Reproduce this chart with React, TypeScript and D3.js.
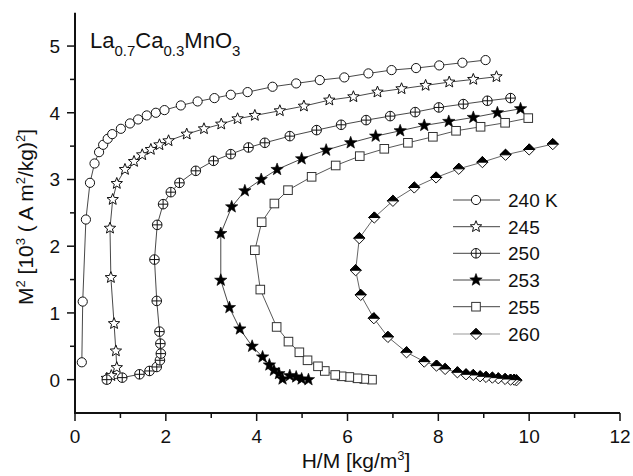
import React from "react";
import * as d3 from "d3";

const W = 633;
const H = 476;

const X_DOMAIN: [number, number] = [0, 12];
const Y_DOMAIN: [number, number] = [-0.5, 5.5];
const X_TICKS = [0, 2, 4, 6, 8, 10, 12];
const X_MINOR = [1, 3, 5, 7, 9, 11];
const Y_TICKS = [0, 1, 2, 3, 4, 5];
const Y_MINOR = [0.5, 1.5, 2.5, 3.5, 4.5];

// Isotherms: [H/M, M^2] pairs
const T240: [number, number][] = [
  [0.15, 0.26], [0.17, 1.17], [0.24, 2.4], [0.33, 2.95], [0.43, 3.24], [0.53, 3.41],
  [0.62, 3.52], [0.72, 3.61], [0.82, 3.68], [1.01, 3.76], [1.21, 3.84], [1.39, 3.9],
  [1.58, 3.96], [1.78, 4.0], [1.97, 4.04], [2.33, 4.11], [2.7, 4.17], [3.07, 4.22],
  [3.43, 4.27], [3.8, 4.31], [4.35, 4.39], [4.87, 4.44], [5.39, 4.49], [5.93, 4.53],
  [6.46, 4.59], [6.97, 4.64], [7.51, 4.67], [8.02, 4.71], [8.53, 4.75], [9.04, 4.79],
];
const T245: [number, number][] = [
  [0.7, 0.02], [0.8, 0.06], [0.92, 0.18], [0.9, 0.43], [0.86, 0.84], [0.79, 1.53],
  [0.77, 2.27], [0.83, 2.7], [0.92, 2.94], [1.1, 3.15], [1.3, 3.27], [1.48, 3.37],
  [1.67, 3.45], [1.86, 3.52], [2.06, 3.58], [2.46, 3.68], [2.84, 3.76], [3.22, 3.83],
  [3.58, 3.91], [3.96, 3.96], [4.51, 4.03], [5.04, 4.1], [5.6, 4.19], [6.13, 4.24],
  [6.66, 4.31], [7.19, 4.36], [7.72, 4.41], [8.24, 4.46], [8.77, 4.5], [9.28, 4.54],
];
const T250: [number, number][] = [
  [0.7, 0.0], [1.04, 0.03], [1.42, 0.08], [1.64, 0.13], [1.8, 0.19], [1.87, 0.29],
  [1.89, 0.39], [1.88, 0.54], [1.86, 0.72], [1.8, 1.18], [1.75, 1.8], [1.81, 2.32],
  [1.94, 2.63], [2.11, 2.81], [2.3, 2.95], [2.66, 3.13], [3.05, 3.28], [3.43, 3.38],
  [3.82, 3.48], [4.18, 3.55], [4.73, 3.65], [5.32, 3.74], [5.86, 3.82], [6.41, 3.89],
  [6.94, 3.95], [7.49, 4.01], [8.01, 4.08], [8.55, 4.13], [9.08, 4.18], [9.59, 4.22],
];
const T253: [number, number][] = [
  [5.14, 0.0], [4.99, 0.01], [4.87, 0.04], [4.73, 0.06], [4.57, 0.01], [4.49, 0.09],
  [4.38, 0.14], [4.28, 0.22], [4.13, 0.34], [3.9, 0.5], [3.63, 0.76], [3.4, 1.08],
  [3.21, 1.49], [3.21, 2.19], [3.45, 2.59], [3.74, 2.83], [4.1, 3.0], [4.45, 3.15],
  [4.99, 3.31], [5.53, 3.44], [6.07, 3.55], [6.62, 3.65], [7.16, 3.73], [7.69, 3.81],
  [8.23, 3.87], [8.77, 3.93], [9.3, 4.0], [9.81, 4.06],
];
const T255: [number, number][] = [
  [6.54, 0.0], [6.37, 0.01], [6.22, 0.02], [6.04, 0.04], [5.87, 0.05], [5.73, 0.07],
  [5.5, 0.13], [5.35, 0.2], [5.12, 0.29], [4.94, 0.41], [4.7, 0.57], [4.44, 0.79],
  [4.08, 1.35], [3.96, 1.94], [4.11, 2.36], [4.39, 2.64], [4.69, 2.84], [5.21, 3.04],
  [5.74, 3.21], [6.27, 3.35], [6.81, 3.46], [7.33, 3.55], [7.88, 3.64], [8.39, 3.73],
  [8.93, 3.79], [9.47, 3.85], [9.98, 3.92],
];
const T260: [number, number][] = [
  [9.72, -0.01], [9.67, 0.0], [9.59, 0.0], [9.47, 0.01], [9.32, 0.02], [9.19, 0.03],
  [9.05, 0.04], [8.92, 0.05], [8.77, 0.07], [8.61, 0.08], [8.42, 0.11], [8.15, 0.16],
  [7.96, 0.21], [7.69, 0.27], [7.3, 0.41], [6.89, 0.64], [6.58, 0.92], [6.29, 1.27],
  [6.18, 1.64], [6.26, 2.12], [6.59, 2.43], [7.0, 2.68], [7.47, 2.88], [7.95, 3.03],
  [8.45, 3.16], [8.97, 3.26], [9.48, 3.37], [10.0, 3.45], [10.52, 3.53],
];

const LEGEND_LABELS = ["240 K", "245", "250", "253", "255", "260"];

type Kind = "circle" | "star" | "oplus" | "fstar" | "square" | "halfdiamond";

const SERIES: { data: [number, number][]; kind: Kind; line: string }[] = [
  { data: T240, kind: "circle", line: "#333" },
  { data: T245, kind: "star", line: "#333" },
  { data: T250, kind: "oplus", line: "#333" },
  { data: T253, kind: "fstar", line: "#333" },
  { data: T255, kind: "square", line: "#444" },
  { data: T260, kind: "halfdiamond", line: "#555" },
];

const FONT = "'Liberation Sans', Arial, Helvetica, sans-serif";

const x = d3.scaleLinear().domain(X_DOMAIN).range([75, 620]);
const y = d3.scaleLinear().domain(Y_DOMAIN).range([413, 12.7]);

function starPath(cx: number, cy: number, R: number, r: number) {
  let p = "";
  for (let i = 0; i < 10; i++) {
    const a = -Math.PI / 2 + (i * Math.PI) / 5;
    const rad = i % 2 ? r : R;
    p += (i ? "L" : "M") + (cx + rad * Math.cos(a)).toFixed(2) + "," + (cy + rad * Math.sin(a)).toFixed(2);
  }
  return p + "Z";
}

function Marker({ kind, cx, cy }: { kind: Kind; cx: number; cy: number }) {
  const sw = 1;
  switch (kind) {
    case "circle":
      return <circle cx={cx} cy={cy} r={4.6} fill="#fff" stroke="#111" strokeWidth={sw} />;
    case "star":
      return <path d={starPath(cx, cy, 6, 2.6)} fill="#fff" stroke="#111" strokeWidth={sw} />;
    case "fstar":
      return <path d={starPath(cx, cy, 6.5, 2.7)} fill="#000" stroke="#000" strokeWidth={0.6} />;
    case "oplus":
      return (
        <g>
          <circle cx={cx} cy={cy} r={4.8} fill="#fff" stroke="#111" strokeWidth={sw} />
          <line x1={cx - 4.8} x2={cx + 4.8} y1={cy} y2={cy} stroke="#111" strokeWidth={sw} />
          <line x1={cx} x2={cx} y1={cy - 4.8} y2={cy + 4.8} stroke="#111" strokeWidth={sw} />
        </g>
      );
    case "square":
      return <rect x={cx - 4.3} y={cy - 4.3} width={8.6} height={8.6} fill="#fff" stroke="#333" strokeWidth={sw} />;
    case "halfdiamond": {
      const s = 5.6;
      return (
        <g>
          <path d={`M${cx - s},${cy}L${cx},${cy - s}L${cx + s},${cy}L${cx},${cy + s}Z`} fill="#fff" stroke="#111" strokeWidth={sw} />
          <path d={`M${cx - s},${cy}L${cx},${cy - s}L${cx + s},${cy}Z`} fill="#000" stroke="#000" strokeWidth={sw} />
        </g>
      );
    }
  }
}

export default function App() {
  const line = d3
    .line<[number, number]>()
    .x((d) => x(d[0]))
    .y((d) => y(d[1]));

  const axisY0 = y(Y_DOMAIN[0]);
  const axisX0 = x(X_DOMAIN[0]);
  const legendRowY = [200, 226.7, 253.3, 280, 306.7, 334];

  return (
    <svg width={W} height={H} style={{ position: "absolute", left: 0, top: 0, background: "#fff" }} fontFamily={FONT}>
      <rect width={W} height={H} fill="#fff" />

      {/* series lines */}
      {SERIES.map((s, i) => (
        <path key={"l" + i} d={line(s.data) || ""} fill="none" stroke={s.line} strokeWidth={0.9} />
      ))}
      {/* series markers */}
      {SERIES.map((s, i) => (
        <g key={"m" + i}>
          {s.data.map((d, j) => (
            <Marker key={j} kind={s.kind} cx={x(d[0])} cy={y(d[1])} />
          ))}
        </g>
      ))}

      {/* axes */}
      <line x1={axisX0} x2={x(X_DOMAIN[1])} y1={axisY0} y2={axisY0} stroke="#111" strokeWidth={2} />
      <line x1={axisX0} x2={axisX0} y1={y(Y_DOMAIN[0]) + 1} y2={y(Y_DOMAIN[1])} stroke="#111" strokeWidth={2} />
      {X_TICKS.map((t) => (
        <g key={"xt" + t}>
          <line x1={x(t)} x2={x(t)} y1={axisY0} y2={axisY0 + 8} stroke="#111" strokeWidth={1.5} />
          <text x={x(t)} y={443} textAnchor="middle" fontSize={19} fill="#111">{t}</text>
        </g>
      ))}
      {X_MINOR.map((t) => (
        <line key={"xm" + t} x1={x(t)} x2={x(t)} y1={axisY0} y2={axisY0 + 5} stroke="#111" strokeWidth={1.5} />
      ))}
      {Y_TICKS.map((t) => (
        <g key={"yt" + t}>
          <line x1={axisX0 - 8} x2={axisX0} y1={y(t)} y2={y(t)} stroke="#111" strokeWidth={1.5} />
          <text x={60} y={y(t) + 7} textAnchor="end" fontSize={19} fill="#111">{t}</text>
        </g>
      ))}
      {Y_MINOR.map((t) => (
        <line key={"ym" + t} x1={axisX0 - 5} x2={axisX0} y1={y(t)} y2={y(t)} stroke="#111" strokeWidth={1.5} />
      ))}

      {/* axis titles */}
      <text x={356} y={468} textAnchor="middle" fontSize={21} fill="#111">
        H/M [kg/m<tspan dy={-8} fontSize={13}>3</tspan><tspan dy={8}>]</tspan>
      </text>
      <text transform="translate(33,217) rotate(-90)" textAnchor="middle" fontSize={21} fill="#111">
        M<tspan dy={-8} fontSize={13}>2</tspan><tspan dy={8}> [10</tspan>
        <tspan dy={-8} fontSize={13}>3</tspan><tspan dy={8}> ( A m</tspan>
        <tspan dy={-8} fontSize={13}>2</tspan><tspan dy={8}>/kg)</tspan>
        <tspan dy={-8} fontSize={13}>2</tspan><tspan dy={8}>]</tspan>
      </text>

      {/* compound label */}
      <text x={90} y={48} fontSize={22} fill="#111">
        La<tspan dy={8} fontSize={15}>0.7</tspan><tspan dy={-8}>Ca</tspan>
        <tspan dy={8} fontSize={15}>0.3</tspan><tspan dy={-8}>MnO</tspan>
        <tspan dy={8} fontSize={15}>3</tspan>
      </text>

      {/* legend */}
      {SERIES.map((s, i) => (
        <g key={"lg" + i}>
          <line x1={453} x2={500} y1={legendRowY[i]} y2={legendRowY[i]} stroke={i === 5 ? "#999" : "#444"} strokeWidth={1} />
          <Marker kind={s.kind} cx={476} cy={legendRowY[i]} />
          <text x={508} y={legendRowY[i] + 7} fontSize={19} fill="#111">{LEGEND_LABELS[i]}</text>
        </g>
      ))}
    </svg>
  );
}
